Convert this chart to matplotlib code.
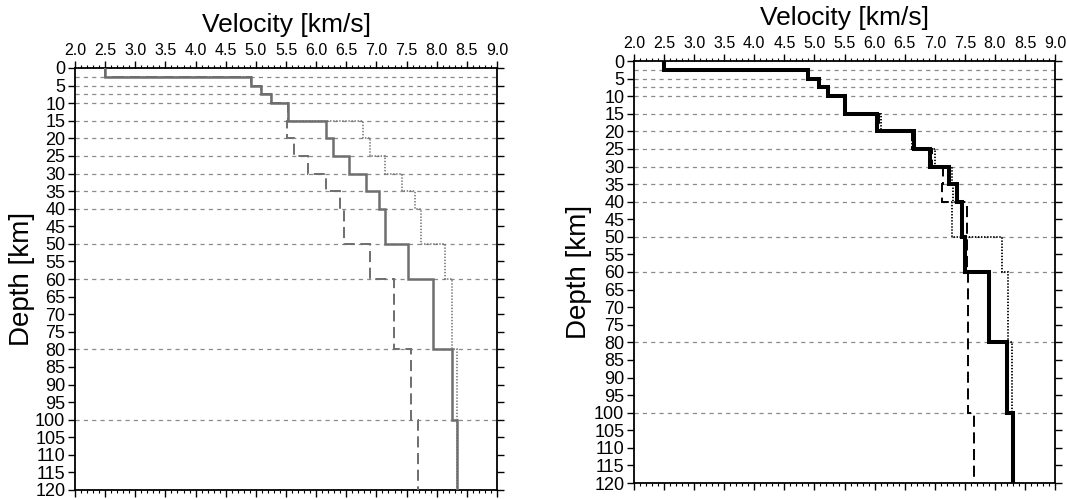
import numpy as np
import matplotlib
matplotlib.use("Agg")
import matplotlib.pyplot as plt

plt.rcParams['font.family'] = ['Liberation Sans', 'DejaVu Sans']
plt.rcParams['lines.scale_dashes'] = False

# layer boundaries (km)
depth_edges = [0, 2.5, 5, 7.5, 10, 15, 20, 25, 30, 35, 40, 50, 60, 80, 100, 120]

# left panel: velocity per layer (km/s)
left_solid = [2.5, 4.92, 5.08, 5.25, 5.53, 6.17, 6.28, 6.54, 6.83, 7.04, 7.14, 7.53, 7.94, 8.25, 8.34]
left_dashed = [2.5, 4.92, 5.08, 5.25, 5.53, 5.52, 5.63, 5.86, 6.17, 6.39, 6.47, 6.89, 7.29, 7.58, 7.69]
left_dotted = [2.5, 4.92, 5.08, 5.25, 5.53, 6.78, 6.89, 7.14, 7.42, 7.64, 7.74, 8.14, 8.25, 8.34, 8.34]

# right panel
right_solid = [2.5, 4.90, 5.07, 5.23, 5.50, 6.04, 6.65, 6.92, 7.23, 7.37, 7.45, 7.50, 7.91, 8.20, 8.30]
right_dashed = [2.5, 4.90, 5.07, 5.23, 5.50, 6.08, 6.62, 6.95, 7.13, 7.12, 7.53, 7.53, 7.55, 7.55, 7.65]
right_dotted = [2.5, 4.90, 5.07, 5.23, 5.50, 6.10, 6.62, 7.00, 7.28, 7.30, 7.28, 8.11, 8.21, 8.28, 8.30]

x_ticks = np.arange(2.0, 9.01, 0.5)
y_ticks = np.arange(0, 121, 5)


def setup_axes(ax):
    ax.set_xlim(2.0, 9.0)
    ax.set_ylim(120, 0)
    ax.set_xticks(x_ticks)
    ax.set_xticklabels(["%.1f" % v for v in x_ticks])
    ax.set_xticks(np.arange(2.0, 9.01, 0.1), minor=True)
    ax.set_yticks(y_ticks)
    ax.set_yticklabels([str(v) for v in y_ticks])
    ax.tick_params(axis='x', which='both', top=True, bottom=True, labeltop=True,
                   labelbottom=False, direction='out', labelsize=11.5, pad=2)
    ax.tick_params(axis='x', which='major', length=5, width=1)
    ax.tick_params(axis='x', which='minor', length=2.5, width=0.8)
    ax.tick_params(axis='y', which='major', left=True, right=True, direction='out',
                   length=5, width=1, labelsize=13, pad=2)
    for s in ax.spines.values():
        s.set_linewidth(1.3)
    for d in depth_edges[1:-1]:
        ax.axhline(d, color='#8a8a8a', lw=0.9, ls=(0, (3, 3)), zorder=1)
    ax.annotate('Velocity [km/s]', xy=(0.5, 1), xycoords='axes fraction',
                xytext=(0, 31), textcoords='offset points', ha='center', va='center',
                fontsize=19)
    ax.set_ylabel('Depth [km]', fontsize=20, va='center')


fig = plt.figure(figsize=(10.67, 5.0), dpi=100)
ax1 = fig.add_axes([0.0703, 0.02, 0.3955, 0.844])
ax2 = fig.add_axes([0.5942, 0.034, 0.3946, 0.844])

setup_axes(ax1)
ax1.yaxis.set_label_coords(-0.126, 0.5)
gray = '#6e6e6e'
ax1.stairs(left_solid, depth_edges, orientation='horizontal', baseline=None,
           color=gray, lw=1.8, zorder=3)
ax1.stairs(left_dashed, depth_edges, orientation='horizontal', baseline=None,
           color=gray, lw=1.4, ls=(0, (8, 4)), zorder=3)
ax1.stairs(left_dotted, depth_edges, orientation='horizontal', baseline=None,
           color=gray, lw=1.1, ls=(0, (1, 1.2)), zorder=3)

setup_axes(ax2)
ax2.yaxis.set_label_coords(-0.13, 0.5)
ax2.stairs(right_solid, depth_edges, orientation='horizontal', baseline=None,
           color='black', lw=2.9, zorder=3)
ax2.stairs(right_dashed, depth_edges, orientation='horizontal', baseline=None,
           color='black', lw=1.4, ls=(0, (8, 4)), zorder=4)
ax2.stairs(right_dotted, depth_edges, orientation='horizontal', baseline=None,
           color='black', lw=1.3, ls=(0, (1, 1.2)), zorder=4)

fig.savefig('out.png', dpi=100)
